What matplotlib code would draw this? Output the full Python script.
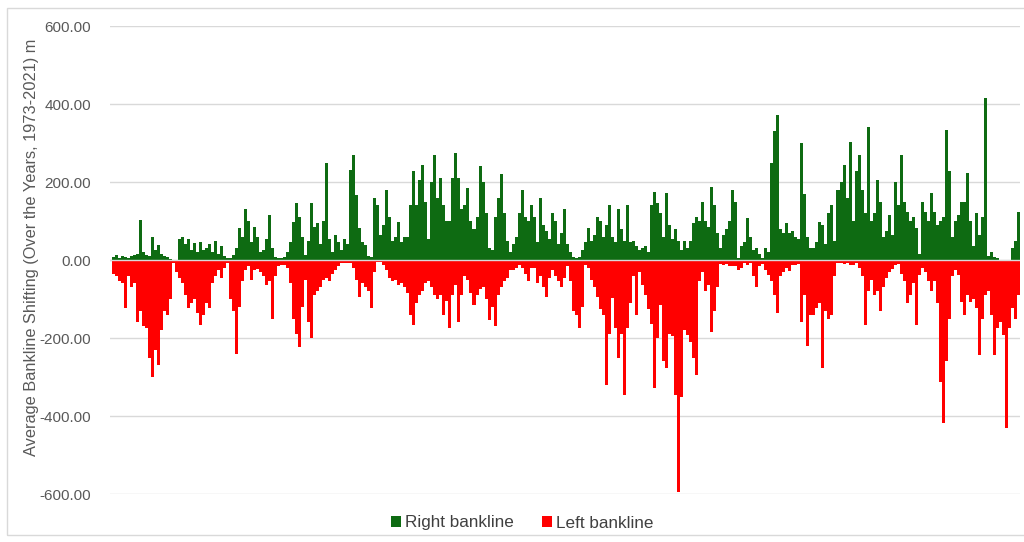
import numpy as np
import matplotlib
matplotlib.use("Agg")
import matplotlib.pyplot as plt
from matplotlib.ticker import FuncFormatter, FixedLocator
from matplotlib.patches import Rectangle

plt.rcParams['font.family'] = ['Liberation Sans', 'DejaVu Sans']

# ---- data (one value per river cross-section) ----
right_bankline = (
    [8, 12, 6, 10, 8, 6, 10, 12, 15, 103, 20, 12, 10, 60, 25, 38, 15, 10, 8, 3,
     0, 0, 55, 60, 40, 55, 25, 43, 20, 47, 25, 30, 42, 20, 48, 15, 35, 10]
    + [5, 4, 12, 30, 81, 60, 130, 100, 45, 85, 60, 20, 25, 55, 115, 30, 8, 6, 5, 8,
       20, 45, 98, 145, 110, 60, 12, 50, 145, 85, 95, 40, 100, 248, 55, 20, 64, 45]
    + [25, 55, 40, 230, 270, 167, 81, 47, 38, 10, 8, 160, 140, 64, 90, 180, 110, 50, 60, 98,
       45, 60, 60, 140, 227, 140, 205, 244, 150, 55, 200, 270, 160, 210, 140, 100, 100, 210]
    + [274, 210, 130, 140, 184, 100, 80, 110, 240, 200, 120, 30, 25, 110, 160, 220, 120, 50, 20, 40,
       60, 120, 180, 110, 100, 141, 110, 45, 158, 90, 75, 55, 120, 100, 40, 70, 130, 40]
    + [20, 8, 6, 8, 25, 45, 81, 50, 65, 110, 100, 60, 90, 141, 60, 45, 132, 80, 50, 141,
       45, 50, 35, 25, 30, 35, 20, 140, 175, 145, 120, 60, 171, 90, 55, 80, 50, 25, 50]
    + [30, 50, 95, 110, 100, 150, 100, 85, 188, 140, 70, 30, 65, 80, 100, 180, 150, 4, 35, 45,
       107, 60, 25, 30, 15, 5, 30, 20, 250, 330, 372, 80, 70, 95, 70, 75, 60, 55]
    + [300, 170, 60, 30, 30, 45, 98, 90, 40, 120, 141, 50, 180, 200, 244, 160, 303, 100, 227, 270,
       180, 120, 342, 100, 120, 205, 150, 60, 75, 115, 65, 200, 140, 270, 150, 124, 100, 110]
    + [81, 15, 150, 124, 100, 171, 124, 90, 100, 110, 333, 227, 60, 100, 115, 150, 150, 222, 100, 35,
       120, 65, 110, 415, 10, 20, 8, 5, 0, 0, 0, 0, 30, 50, 124]
)

left_bankline = (
    [-35, -40, -55, -60, -124, -40, -70, -60, -158, -130, -170, -175, -250, -300, -230, -270, -180, -130, -140, -100,
     -8, -30, -47, -60, -90, -124, -110, -100, -135, -167, -140, -110, -124, -60, -40, -25, -45, -20]
    + [-8, -100, -132, -240, -120, -55, -25, -15, -50, -25, -22, -30, -40, -65, -55, -150, -40, -15, -12, -12,
       -20, -60, -150, -190, -222, -120, -50, -160, -200, -90, -80, -70, -50, -45, -55, -35, -25, -15]
    + [-8, -8, -8, -8, -20, -50, -95, -60, -70, -80, -124, -30, -5, -4, -12, -25, -45, -55, -50, -65,
       -60, -70, -85, -141, -167, -110, -90, -80, -60, -55, -70, -90, -100, -90, -141, -105, -175, -90]
    + [-65, -158, -90, -40, -50, -85, -115, -90, -75, -70, -100, -154, -120, -170, -90, -70, -55, -45, -25, -25,
       -20, -12, -20, -35, -55, -20, -20, -60, -40, -70, -94, -45, -25, -40, -55, -70, -45, -15]
    + [-55, -132, -140, -175, -120, -12, -20, -50, -70, -95, -125, -140, -320, -190, -98, -175, -250, -190, -346, -175,
       -110, -40, -141, -30, -65, -90, -125, -165, -329, -200, -115, -260, -278, -190, -195, -346, -594, -350, -180]
    + [-192, -210, -252, -295, -55, -30, -80, -65, -184, -130, -70, -10, -12, -10, -15, -15, -15, -25, -20, -8,
       -12, -8, -40, -68, -15, -10, -25, -38, -55, -90, -137, -40, -30, -20, -28, -12, -12, -10]
    + [-158, -90, -220, -140, -140, -124, -110, -278, -130, -150, -140, -40, -8, -8, -10, -8, -12, -12, -8, -20,
       -40, -167, -80, -50, -90, -80, -132, -70, -45, -30, -22, -12, -10, -35, -55, -110, -90, -60]
    + [-167, -38, -20, -30, -55, -80, -55, -110, -312, -419, -260, -150, -40, -25, -38, -107, -140, -90, -107, -100,
       -124, -244, -150, -90, -80, -141, -244, -175, -160, -192, -432, -175, -124, -150, -90]
)

y_ticks = [-600, -400, -200, 0, 200, 400, 600]
series_names = ["Right bankline", "Left bankline"]
y_label = "Average Bankline Shifting (Over the Years, 1973-2021) m"

# ---- figure ----
W, H = 1024, 542
fig = plt.figure(figsize=(W / 100, H / 100), dpi=100)
fig.patch.set_facecolor('white')

# outer chart border
fig.patches.append(Rectangle((7 / W, 1 - 535 / H), (1030 - 7) / W, (535 - 8) / H,
                             transform=fig.transFigure, fill=False,
                             edgecolor='#d9d9d9', linewidth=1.0))

left_px, right_px, top_px, bot_px = 110, 1020, 26, 494
ax = fig.add_axes([left_px / W, 1 - bot_px / H, (right_px - left_px) / W, (bot_px - top_px) / H])

n = len(right_bankline)
x = np.arange(n)
green = '#0E6B12'
red = '#FF0000'
ax.bar(x, right_bankline, width=1.0, color=green, linewidth=0, label=series_names[0], zorder=2)
ax.bar(x, left_bankline, width=1.0, color=red, linewidth=0, label=series_names[1], zorder=2)
ax.axhline(0, color='#d9d9d9', linewidth=1.0, zorder=3)

ax.set_xlim(-1.0, n - 0.5)
ax.set_ylim(-600, 600)
ax.yaxis.set_major_locator(FixedLocator(y_ticks))
ax.yaxis.set_major_formatter(FuncFormatter(lambda v, p: f"{v:.2f}"))
ax.set_xticks([])
ax.grid(axis='y', color='#d9d9d9', linewidth=1.0, zorder=0)
ax.set_axisbelow(True)
for s in ax.spines.values():
    s.set_visible(False)
ax.tick_params(axis='y', length=0, pad=13.5, labelsize=11.0, labelcolor='#595959')

ax.set_ylabel(y_label, fontsize=11.8, color='#595959')
ax.yaxis.set_label_coords(-0.0775, 0.528)

fig.legend(loc='center', bbox_to_anchor=(0.51, 1 - 523 / H), ncol=2, frameon=False,
           fontsize=12.3, handlelength=0.6, handleheight=0.6, handletextpad=0.25,
           columnspacing=1.6, labelcolor='#404040')

fig.savefig('out.png', dpi=100)
